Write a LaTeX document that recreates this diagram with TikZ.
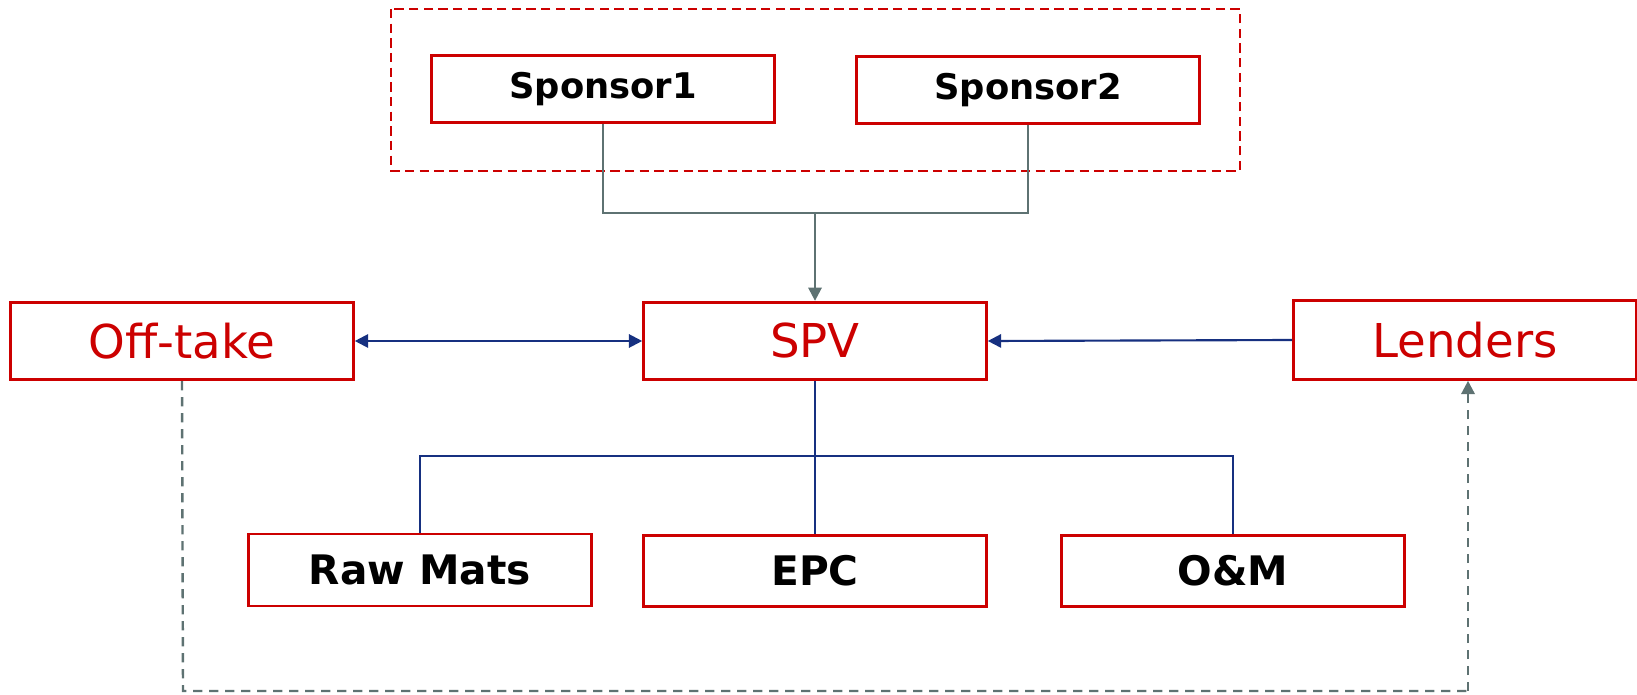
\documentclass[tikz,border=0pt]{standalone}
\usepackage{fontspec}
\setmainfont{DejaVu Sans}
\usetikzlibrary{arrows.meta}
\definecolor{boxred}{RGB}{204,0,0}
\definecolor{navy}{RGB}{22,48,128}
\definecolor{slate}{RGB}{94,114,114}
\begin{document}
\begin{tikzpicture}[x=0.75pt,y=-0.75pt,
  redbox/.style={draw=boxred,line width=2.2pt,inner sep=0pt,minimum width=257pt,minimum height=55pt},
  toptext/.style={font=\fontsize{26.5}{30}\selectfont\bfseries,text=black},
  midtext/.style={font=\fontsize{35}{40}\selectfont,text=boxred},
  bottext/.style={font=\fontsize{30.5}{35}\selectfont\bfseries,text=black},
  navyline/.style={draw=navy,line width=1.6pt},
  slateline/.style={draw=slate,line width=1.8pt},
  tip/.style={-{Triangle[length=10pt,width=10pt]}}
]
\useasboundingbox (0,0) rectangle (1637,695);
\draw[boxred,line width=1.8pt,dash pattern=on 7pt off 4pt] (391,9) rectangle (1240,171);

\node[redbox,toptext,minimum height=50pt] (s1) at (603,89) {Sponsor1};
\node[redbox,toptext,minimum height=50pt] (s2) at (1028,90) {Sponsor2};
\node[redbox,midtext,minimum height=58pt] (off) at (182,341) {Off-take};
\node[redbox,midtext,minimum height=58pt] (spv) at (815,341) {SPV};
\node[redbox,midtext,minimum height=59pt] (len) at (1465,340) {Lenders};
\node[redbox,bottext,minimum height=54pt] (raw) at (420,570) {Raw Mats};
\node[redbox,bottext,minimum height=53pt] (epc) at (815,571) {EPC};
\node[redbox,bottext,minimum height=53pt] (om) at (1233,571) {O\&M};

\coordinate (sj) at (815,213);
\coordinate (bj) at (815,456);
\coordinate (dl) at (183,691);
\coordinate (dr) at (1468,691);

\draw[slateline] (s1.south) |- (sj);
\draw[slateline] (s2.south) |- (sj);
\draw[slateline,tip] (sj) -- (spv.north);

\draw[navyline,{Triangle[length=10pt,width=10pt]}-{Triangle[length=10pt,width=10pt]}] (off.east) -- (spv.west);
\draw[navyline,tip] (len.west) -- (spv.east);

\draw[navyline] (spv.south) -- (bj);
\draw[navyline] (raw.north) |- (bj);
\draw[navyline] (om.north) |- (bj);
\draw[navyline] (bj) -- (epc.north);

\draw[slateline,dash pattern=on 7pt off 5pt] (off.south) -- (dl) -- (dr);
\draw[slateline,dash pattern=on 7pt off 5pt,tip] (dr) -- (dr |- len.south);
\end{tikzpicture}
\end{document}
